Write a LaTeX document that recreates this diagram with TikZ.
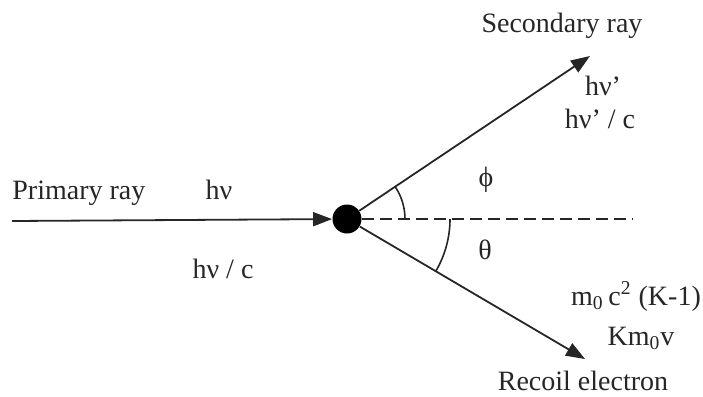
\documentclass[tikz,border=0pt]{standalone}
\usepackage{fontspec}
\setmainfont{Liberation Serif}
\usetikzlibrary{arrows.meta}
\begin{document}
\begin{tikzpicture}[x=0.5pt,y=-0.5pt,
  ray/.style={line width=0.9pt,draw=black!85},
  tip/.style={-{Triangle[length=9.5pt,width=7pt]}},
  lbl/.style={anchor=base,inner sep=0pt,font=\fontsize{14}{16}\selectfont,text=black!85},
  arcline/.style={line width=0.8pt,draw=black!85}]
\useasboundingbox (0,0) rectangle (703,397);
\node[circle,fill=black,minimum size=14.5pt,inner sep=0pt] (O) at (347,219) {};
\coordinate (P) at (12,221);
\coordinate (S) at (590,56);
\coordinate (R) at (585,359);
\coordinate (D) at (632,219);
\draw[ray,tip] (P) -- (O);
\draw[ray,tip] (O) -- (S);
\draw[ray,tip] (O) -- (R);
\draw[ray,dash pattern=on 6pt off 3pt] (O) -- (D);
\draw[arcline] ([xshift=29pt]O.center) arc[start angle=0,end angle=33.85,radius=29pt];
\draw[arcline] ([xshift=51.5pt]O.center) arc[start angle=0,end angle=-30.46,radius=51.5pt];
\node[lbl,anchor=base west] (prim) at (12,199) {Primary ray};
\node[lbl] (hv) at (219,199) {hν};
\node[lbl] (hvc) at (223,278) {hν / c};
\node[lbl] (sec) at (562,32) {Secondary ray};
\node[lbl] (hvp) at (603,95) {hν'};
\node[lbl] (hvpc) at (600,128) {hν' / c};
\node[lbl] (phi) at (486,186) {ϕ};
\node[lbl] (theta) at (485,259) {θ};
\node[lbl] (ke) at (636,305) {m\textsubscript{0}\,c\textsuperscript{2} (K-1)};
\node[lbl] (mom) at (641,345) {Km\textsubscript{0}v};
\node[lbl] (rec) at (583,390) {Recoil electron};
\end{tikzpicture}
\end{document}
